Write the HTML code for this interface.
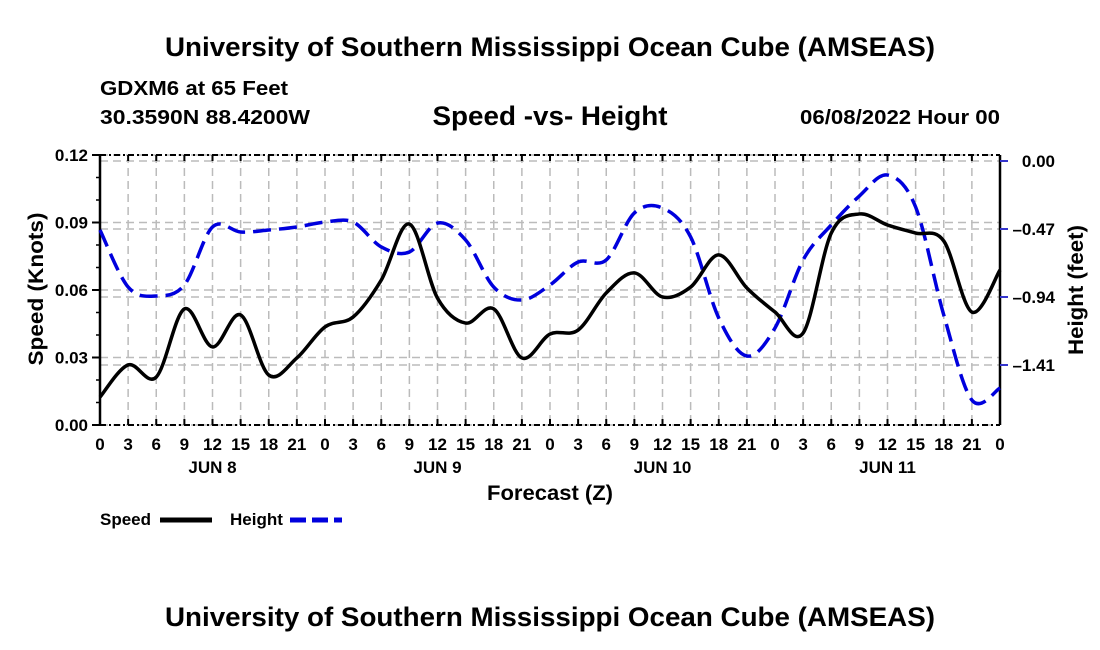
<!DOCTYPE html>
<html><head><meta charset="utf-8"><style>
html,body{margin:0;padding:0;background:#fff;}
svg{display:block;font-family:"Liberation Sans",Arial,sans-serif;font-weight:bold;}
</style></head><body>
<svg id="c" width="1100" height="650" viewBox="0 0 1100 650">
<text x="550" y="56" font-size="27" text-anchor="middle" textLength="770" lengthAdjust="spacingAndGlyphs">University of Southern Mississippi Ocean Cube (AMSEAS)</text>
<text x="100" y="95" font-size="20" textLength="188" lengthAdjust="spacingAndGlyphs">GDXM6 at 65 Feet</text>
<text x="100" y="124" font-size="20" textLength="210" lengthAdjust="spacingAndGlyphs">30.3590N  88.4200W</text>
<text x="550" y="125" font-size="27" text-anchor="middle" textLength="235" lengthAdjust="spacingAndGlyphs">Speed -vs- Height</text>
<text x="1000" y="124" font-size="20" text-anchor="end" textLength="200" lengthAdjust="spacingAndGlyphs">06/08/2022 Hour 00</text>
<g id="grid"></g>
<g id="axes"></g>
<g id="series"></g>
<text x="43" y="289" font-size="21" text-anchor="middle" textLength="153" lengthAdjust="spacingAndGlyphs" transform="rotate(-90 43 289)">Speed (Knots)</text>
<text x="1083" y="290" font-size="21" text-anchor="middle" textLength="130" lengthAdjust="spacingAndGlyphs" transform="rotate(-90 1083 290)">Height (feet)</text>
<text x="550" y="500" font-size="21" text-anchor="middle" textLength="126" lengthAdjust="spacingAndGlyphs">Forecast (Z)</text>
<g>
<text x="100" y="525" font-size="17">Speed</text>
<line x1="160" y1="520" x2="212" y2="520" stroke="#000" stroke-width="5"/>
</g>
<g>
<text x="230" y="525" font-size="17">Height</text>
<line x1="290" y1="520" x2="342" y2="520" stroke="#0000dd" stroke-width="5" stroke-dasharray="16,6"/>
</g>
<text x="550" y="626" font-size="27" text-anchor="middle" textLength="770" lengthAdjust="spacingAndGlyphs">University of Southern Mississippi Ocean Cube (AMSEAS)</text>
</svg>
<script>
const hours = [0,3,6,9,12,15,18,21,24,27,30,33,36,39,42,45,48,51,54,57,60,63,66,69,72,75,78,81,84,87,90,93,96];
const speed = [0.0124,0.0267,0.0213,0.0516,0.0347,0.0489,0.0222,0.0298,0.0436,0.048,0.0644,0.0893,0.0564,0.0453,0.0516,0.0298,0.0404,0.0422,0.0587,0.0676,0.0569,0.0613,0.0756,0.0609,0.0502,0.0409,0.0853,0.0938,0.0889,0.0853,0.0818,0.0502,0.0689];
const height = [-0.477,-0.871,-0.933,-0.857,-0.456,-0.491,-0.477,-0.456,-0.422,-0.422,-0.594,-0.629,-0.429,-0.546,-0.871,-0.961,-0.857,-0.698,-0.684,-0.359,-0.325,-0.525,-1.085,-1.348,-1.154,-0.684,-0.442,-0.242,-0.097,-0.318,-1.064,-1.652,-1.569];
const leftTicks = [0,0.03,0.06,0.09,0.12];
const leftTickLabels = ["0.00","0.03","0.06","0.09","0.12"];
const rightTicks = [0,-0.47,-0.94,-1.41];
const rightTickLabels = ["0.00","\u20130.47","\u20130.94","\u20131.41"];
const dayLabels = ["JUN 8","JUN 9","JUN 10","JUN 11"];
const dayHours = [12,36,60,84];

const NS="http://www.w3.org/2000/svg";
const X0=100,X1=1000,YT=155,YB=425;
const xS=h=>X0+(h/96)*(X1-X0);
const yL=v=>YB-(v/0.12)*(YB-YT);
const yR=v=>161-(v/0.47)*68;
function mk(tag,attrs,parent){const e=document.createElementNS(NS,tag);for(const k in attrs)e.setAttribute(k,attrs[k]);parent.appendChild(e);return e;}
const grid=document.getElementById('grid'),axes=document.getElementById('axes'),series=document.getElementById('series');
const gs={stroke:"#bbb","stroke-width":1.5,"stroke-dasharray":"8,5",fill:"none"};
for(let h=3;h<96;h+=3){const l=mk('line',Object.assign({x1:xS(h),x2:xS(h),y1:YT,y2:YB},gs),grid);

}
leftTicks.forEach(v=>{const l=mk('line',Object.assign({x1:X0,x2:X1,y1:yL(v),y2:yL(v)},gs),grid);

});
rightTicks.forEach(v=>{const l=mk('line',Object.assign({x1:X0,x2:X1,y1:yR(v),y2:yR(v)},gs),grid);

});
mk('line',{x1:X0,x2:X0,y1:YT,y2:YB,stroke:"#000","stroke-width":2.5},axes);
mk('line',{x1:X1,x2:X1,y1:YT,y2:YB,stroke:"#000","stroke-width":2.5},axes);
mk('line',{x1:X0,x2:X1,y1:YT,y2:YT,stroke:"#000","stroke-width":2,"stroke-dasharray":"6,3,2,3"},axes);
mk('line',{x1:X0,x2:X1,y1:YB,y2:YB,stroke:"#000","stroke-width":2,"stroke-dasharray":"6,3,2,3"},axes);
hours.forEach(h=>{mk('line',{x1:xS(h),x2:xS(h),y1:YB,y2:YB-6,stroke:"#000","stroke-width":2},axes);
mk('line',{x1:xS(h),x2:xS(h),y1:YT,y2:YT+6,stroke:"#000","stroke-width":2},axes);
const t=mk('text',{x:xS(h),y:450,"font-size":17,"text-anchor":"middle"},axes);t.textContent=String(h%24);

});
dayHours.forEach((h,i)=>{const t=mk('text',{x:xS(h),y:473,"font-size":17,"text-anchor":"middle"},axes);t.textContent=dayLabels[i];

});
for(let v=0;v<=0.1201;v+=0.01){mk('line',{x1:X0,x2:X0-4,y1:yL(v),y2:yL(v),stroke:"#000","stroke-width":1.5},axes);}
leftTicks.forEach((v,i)=>{mk('line',{x1:X0,x2:X0-8,y1:yL(v),y2:yL(v),stroke:"#000","stroke-width":2},axes);
const t=mk('text',{x:88,y:yL(v)+6,"font-size":17,"text-anchor":"end"},axes);t.textContent=leftTickLabels[i];

});
rightTicks.forEach((v,i)=>{mk('line',{x1:X1,x2:X1+8,y1:yR(v),y2:yR(v),stroke:"#3333cc","stroke-width":2},axes);
const t=mk('text',{x:1055,y:yR(v)+6,"font-size":17,"text-anchor":"end"},axes);t.textContent=rightTickLabels[i];

});
function smooth(pts){let d=`M${pts[0][0]},${pts[0][1]}`;
for(let i=0;i<pts.length-1;i++){const p0=pts[Math.max(0,i-1)],p1=pts[i],p2=pts[i+1],p3=pts[Math.min(pts.length-1,i+2)];
d+=` C${p1[0]+(p2[0]-p0[0])/6},${p1[1]+(p2[1]-p0[1])/6} ${p2[0]-(p3[0]-p1[0])/6},${p2[1]-(p3[1]-p1[1])/6} ${p2[0]},${p2[1]}`;}
return d;}
const hp=mk('path',{d:smooth(hours.map((h,i)=>[xS(h),yR(height[i])])),stroke:"#0000dd","stroke-width":3.5,fill:"none","stroke-dasharray":"18,8"},series);


const sp=mk('path',{d:smooth(hours.map((h,i)=>[xS(h),yL(speed[i])])),stroke:"#000","stroke-width":3.5,fill:"none"},series);


</script>
</body></html>
